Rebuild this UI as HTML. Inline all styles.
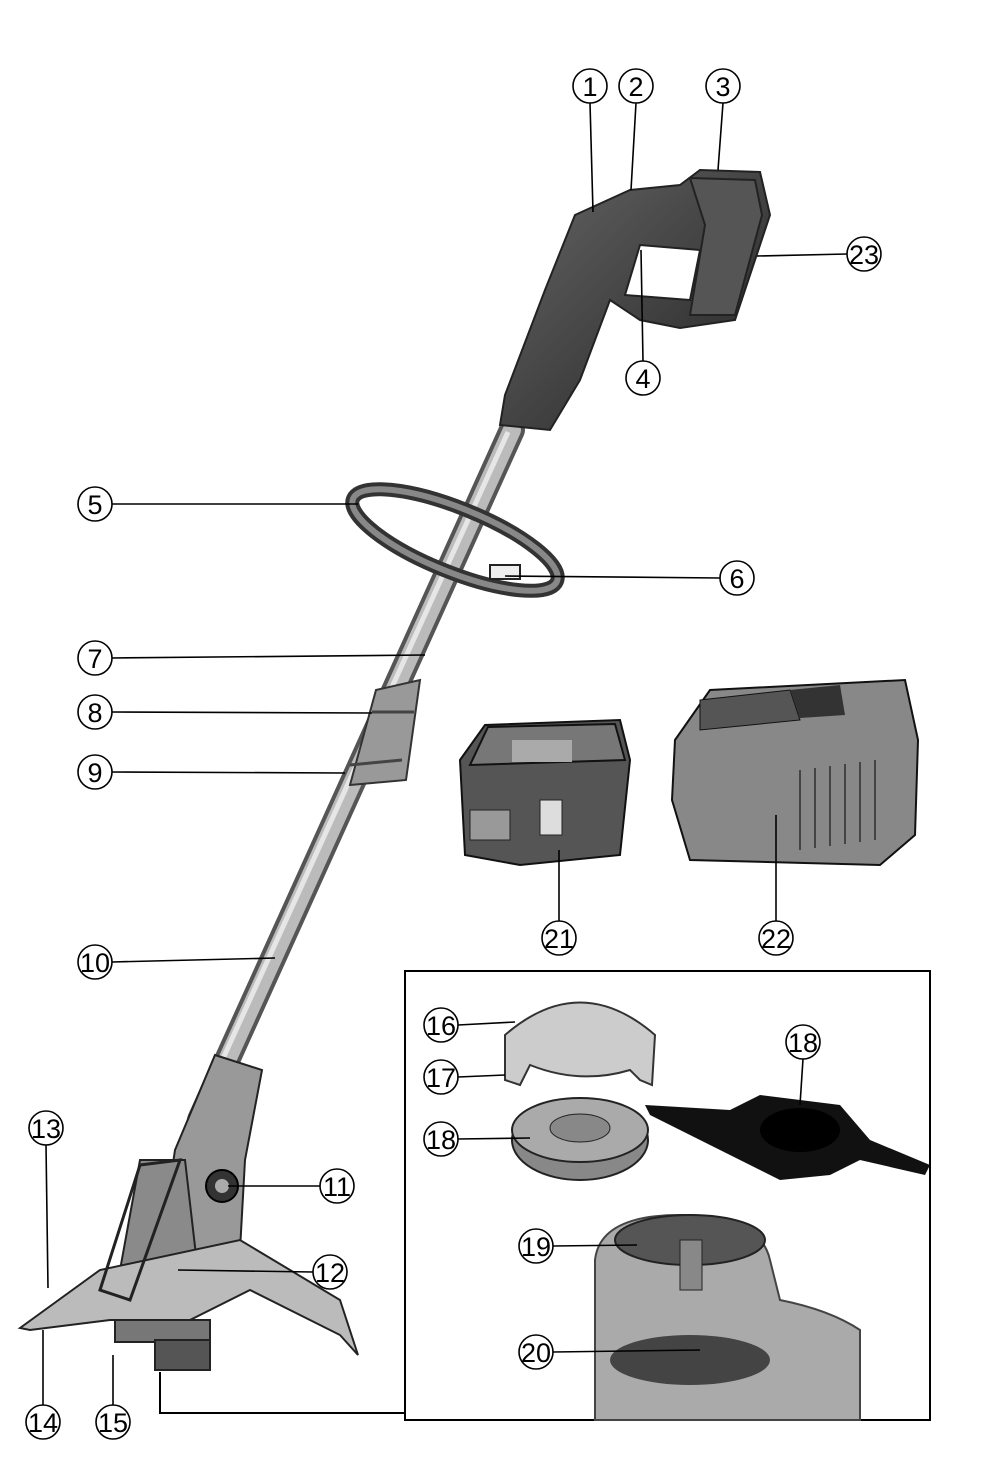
<!DOCTYPE html>
<html><head><meta charset="utf-8"><style>
html,body{margin:0;padding:0;background:#fff}
svg{display:block}
text{font-family:"Liberation Sans",sans-serif;font-size:27px;fill:#000;text-anchor:middle;dominant-baseline:central}
</style></head><body>
<svg width="992" height="1465" viewBox="0 0 992 1465">
<defs>
<linearGradient id="sh" x1="0" y1="0" x2="1" y2="0"><stop offset="0" stop-color="#777"/><stop offset=".5" stop-color="#ddd"/><stop offset="1" stop-color="#666"/></linearGradient>
<linearGradient id="dk" x1="0" y1="0" x2="1" y2="1"><stop offset="0" stop-color="#666"/><stop offset="1" stop-color="#222"/></linearGradient>
</defs>
<!-- shaft -->
<line x1="512" y1="430" x2="200" y2="1120" stroke="#555" stroke-width="26" stroke-linecap="round"/>
<line x1="512" y1="430" x2="200" y2="1120" stroke="#bbb" stroke-width="18" stroke-linecap="round"/>
<line x1="508" y1="432" x2="196" y2="1118" stroke="#e6e6e6" stroke-width="5"/>
<!-- coupling 8/9 -->
<path d="M376 690 L420 680 L406 780 L350 785 Z" fill="#999" stroke="#333" stroke-width="2"/>
<line x1="372" y1="712" x2="414" y2="712" stroke="#444" stroke-width="3"/>
<line x1="350" y1="765" x2="402" y2="760" stroke="#444" stroke-width="3"/>
<!-- handle -->
<path d="M575 215 L630 190 L680 185 L700 170 L760 172 L770 215 L735 320 L680 328 L640 320 L610 300 L580 380 L550 430 L500 425 L505 395 L545 290 Z" fill="url(#dk)" stroke="#222" stroke-width="2"/>
<path d="M640 245 L700 250 L690 300 L625 295 Z" fill="#fff" stroke="#222" stroke-width="2"/>
<path d="M690 178 L755 180 L762 215 L735 315 L690 315 L705 225 Z" fill="#555" stroke="#222" stroke-width="2"/>
<!-- bow handle -->
<ellipse cx="455" cy="540" rx="110" ry="32" transform="rotate(22 455 540)" fill="none" stroke="#333" stroke-width="14"/>
<ellipse cx="455" cy="540" rx="110" ry="32" transform="rotate(22 455 540)" fill="none" stroke="#888" stroke-width="6"/>
<rect x="490" y="565" width="30" height="14" fill="#eee" stroke="#222" stroke-width="2"/>
<!-- lower motor housing -->
<path d="M215 1055 L262 1070 L245 1160 L240 1250 L210 1260 L160 1250 L175 1150 Z" fill="#999" stroke="#222" stroke-width="2"/>
<path d="M140 1160 L185 1160 L200 1290 L150 1300 L120 1270 Z" fill="#8a8a8a" stroke="#222" stroke-width="2"/>
<circle cx="222" cy="1186" r="16" fill="#333" stroke="#000" stroke-width="2"/><circle cx="222" cy="1186" r="7" fill="#aaa"/>
<path d="M20 1328 L100 1270 L240 1240 L340 1300 L358 1355 L340 1335 L250 1290 L190 1320 L110 1320 L30 1330 Z" fill="#bbb" stroke="#222" stroke-width="2"/>
<path d="M100 1290 L140 1165 L180 1160 L130 1300 Z" fill="none" stroke="#222" stroke-width="3"/>
<rect x="115" y="1320" width="95" height="22" fill="#777" stroke="#222" stroke-width="2"/>
<rect x="155" y="1340" width="55" height="30" fill="#555" stroke="#222" stroke-width="2"/>
<!-- battery -->
<path d="M460 760 L485 725 L620 720 L630 760 L620 855 L520 865 L465 855 Z" fill="#555" stroke="#111" stroke-width="2"/>
<path d="M488 727 L615 724 L625 760 L470 765 Z" fill="#777" stroke="#111" stroke-width="2"/>
<rect x="512" y="740" width="60" height="22" fill="#aaa"/>
<rect x="470" y="810" width="40" height="30" fill="#999" stroke="#222"/>
<rect x="540" y="800" width="22" height="35" fill="#ddd" stroke="#222"/>
<!-- charger -->
<path d="M675 740 L710 690 L905 680 L918 740 L915 835 L880 865 L690 860 L672 800 Z" fill="#888" stroke="#111" stroke-width="2"/>
<path d="M700 700 L790 690 L800 720 L700 730 Z" fill="#555" stroke="#111"/>
<path d="M790 690 L840 685 L845 715 L800 718 Z" fill="#333"/>
<g stroke="#444" stroke-width="2"><line x1="800" y1="770" x2="800" y2="850"/><line x1="815" y1="768" x2="815" y2="848"/><line x1="830" y1="766" x2="830" y2="846"/><line x1="845" y1="764" x2="845" y2="844"/><line x1="860" y1="762" x2="860" y2="842"/><line x1="875" y1="760" x2="875" y2="840"/></g>
<!-- detail box -->
<rect x="405" y="971" width="525" height="449" fill="none" stroke="#000" stroke-width="2"/>
<polyline points="160,1372 160,1413 405,1413" fill="none" stroke="#000" stroke-width="2"/>
<path d="M505 1035 Q580 970 655 1035 L652 1085 L640 1080 L630 1070 Q580 1085 530 1065 L520 1085 L505 1080 Z" fill="#ccc" stroke="#333" stroke-width="2"/>
<ellipse cx="580" cy="1140" rx="68" ry="40" fill="#888" stroke="#222" stroke-width="2"/>
<ellipse cx="580" cy="1130" rx="68" ry="32" fill="#aaa" stroke="#222" stroke-width="2"/>
<ellipse cx="580" cy="1128" rx="30" ry="14" fill="#888" stroke="#222"/>
<path d="M645 1105 L730 1110 L760 1095 L840 1105 L870 1140 L930 1165 L925 1175 L860 1160 L830 1175 L780 1180 L740 1160 L650 1115 Z" fill="#111"/>
<ellipse cx="800" cy="1130" rx="40" ry="22" fill="#000"/>
<path d="M595 1260 Q600 1215 680 1215 Q760 1215 770 1260 L780 1300 Q830 1310 860 1330 L860 1420 L595 1420 Z" fill="#aaa" stroke="#444" stroke-width="2"/>
<ellipse cx="690" cy="1240" rx="75" ry="25" fill="#555" stroke="#222" stroke-width="2"/>
<rect x="680" y="1240" width="22" height="50" fill="#888" stroke="#222"/>
<ellipse cx="690" cy="1360" rx="80" ry="25" fill="#444"/>
<!-- leader lines -->
<g stroke="#000" stroke-width="1.6" fill="none">
<line x1="590" y1="103" x2="593" y2="212"/><line x1="636" y1="103" x2="631" y2="190"/><line x1="723" y1="103" x2="718" y2="170"/>
<line x1="847" y1="254" x2="757" y2="256"/><line x1="643" y1="361" x2="641" y2="250"/>
<line x1="112" y1="504" x2="358" y2="504"/><line x1="720" y1="578" x2="505" y2="576"/>
<line x1="112" y1="658" x2="425" y2="655"/><line x1="112" y1="712" x2="372" y2="713"/><line x1="112" y1="772" x2="345" y2="773"/>
<line x1="112" y1="962" x2="275" y2="958"/><line x1="559" y1="921" x2="559" y2="850"/><line x1="776" y1="921" x2="776" y2="815"/>
<line x1="320" y1="1186" x2="228" y2="1186"/><line x1="313" y1="1272" x2="178" y2="1270"/>
<line x1="46" y1="1145" x2="48" y2="1288"/><line x1="43" y1="1405" x2="43" y2="1330"/><line x1="113" y1="1405" x2="113" y2="1355"/>
<line x1="458" y1="1025" x2="515" y2="1022"/><line x1="458" y1="1077" x2="505" y2="1075"/><line x1="458" y1="1139" x2="530" y2="1138"/>
<line x1="803" y1="1059" x2="800" y2="1105"/><line x1="553" y1="1246" x2="637" y2="1245"/><line x1="553" y1="1352" x2="700" y2="1350"/>
</g>
<!-- callouts -->
<g stroke="#000" stroke-width="1.6" fill="#fff">
<circle cx="590" cy="86" r="17"/><circle cx="636" cy="86" r="17"/><circle cx="723" cy="86" r="17"/><circle cx="864" cy="254" r="17"/>
<circle cx="643" cy="378" r="17"/><circle cx="95" cy="504" r="17"/><circle cx="737" cy="578" r="17"/><circle cx="95" cy="658" r="17"/>
<circle cx="95" cy="712" r="17"/><circle cx="95" cy="772" r="17"/><circle cx="95" cy="962" r="17"/><circle cx="559" cy="938" r="17"/>
<circle cx="776" cy="938" r="17"/><circle cx="46" cy="1128" r="17"/><circle cx="337" cy="1186" r="17"/><circle cx="330" cy="1272" r="17"/>
<circle cx="43" cy="1422" r="17"/><circle cx="113" cy="1422" r="17"/><circle cx="441" cy="1025" r="17"/><circle cx="441" cy="1077" r="17"/>
<circle cx="803" cy="1042" r="17"/><circle cx="441" cy="1139" r="17"/><circle cx="536" cy="1246" r="17"/><circle cx="536" cy="1352" r="17"/>
</g>
<text x="590" y="87">1</text><text x="636" y="87">2</text><text x="723" y="87">3</text><text x="864" y="255">23</text>
<text x="643" y="379">4</text><text x="95" y="505">5</text><text x="737" y="579">6</text><text x="95" y="659">7</text>
<text x="95" y="713">8</text><text x="95" y="773">9</text><text x="95" y="963">10</text><text x="559" y="939">21</text>
<text x="776" y="939">22</text><text x="46" y="1129">13</text><text x="337" y="1187">11</text><text x="330" y="1273">12</text>
<text x="43" y="1423">14</text><text x="113" y="1423">15</text><text x="441" y="1026">16</text><text x="441" y="1078">17</text>
<text x="803" y="1043">18</text><text x="441" y="1140">18</text><text x="536" y="1247">19</text><text x="536" y="1353">20</text>
</svg>
</body></html>
